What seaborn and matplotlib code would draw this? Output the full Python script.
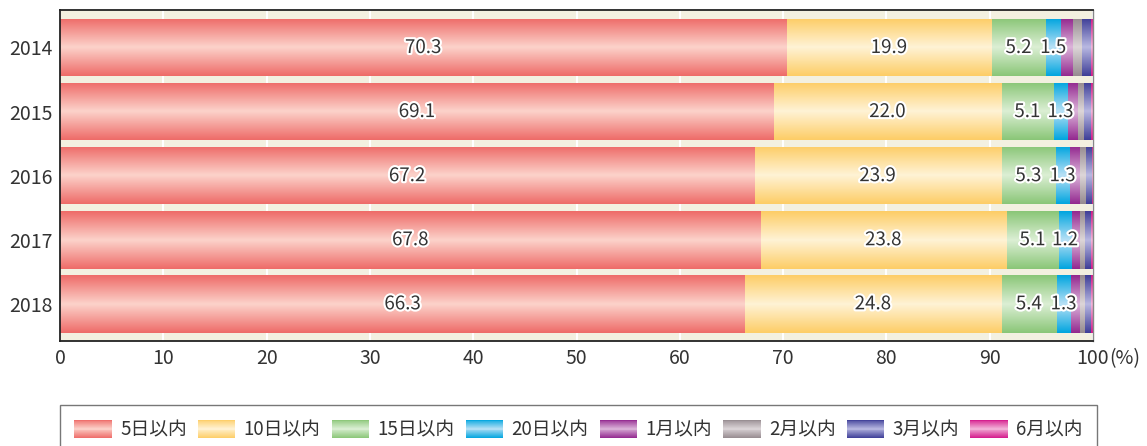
import numpy as np
import pandas as pd
import matplotlib
matplotlib.use("Agg")
import matplotlib.pyplot as plt
import matplotlib.patheffects as pe
from matplotlib.colors import LinearSegmentedColormap
from matplotlib.legend_handler import HandlerBase
from matplotlib.patches import Patch, Rectangle
import seaborn as sns

# data
years = ['2014', '2015', '2016', '2017', '2018']
categories = ['5日以内', '10日以内', '15日以内', '20日以内', '1月以内', '2月以内', '3月以内', '6月以内']
d5 = [70.3, 69.1, 67.2, 67.8, 66.3]
d10 = [19.9, 22.0, 23.9, 23.8, 24.8]
d15 = [5.2, 5.1, 5.3, 5.1, 5.4]
d20 = [1.5, 1.3, 1.3, 1.2, 1.3]
m1 = [1.1, 1.0, 1.0, 0.8, 0.9]
m2 = [0.9, 0.6, 0.6, 0.5, 0.5]
m3 = [0.9, 0.7, 0.6, 0.6, 0.6]
m6 = [0.2, 0.2, 0.1, 0.2, 0.2]
labelled = 4  # only first four series get value labels

# (edge colour, centre colour) for the shiny gradient bars
edge_cols = ['#ee6b68', '#fdcd66', '#8ac677', '#00a5df', '#93288f', '#968b90', '#3e3e97', '#d4198b']
mid_cols = ['#fcd3cb', '#fff3d6', '#dcefd5', '#b9e1f6', '#dcb5da', '#ddd6d9', '#b9b9e2', '#f3b6da']

df = pd.DataFrame(dict(zip(categories, [d5, d10, d15, d20, m1, m2, m3, m6])), index=years)
cum = df.cumsum(axis=1)

sns.set_style("white")
plt.rcParams['font.family'] = ['Noto Sans CJK JP', 'DejaVu Sans']

fig = plt.figure(figsize=(11.47, 4.46), dpi=100)
ax = fig.add_axes([60 / 1147, 1 - 341 / 446, 1033 / 1147, 331 / 446])
ax.set_facecolor('#f3f0e0')

cmaps = [LinearSegmentedColormap.from_list('g%d' % i, [e, m, e])
         for i, (e, m) in enumerate(zip(edge_cols, mid_cols))]
grad = np.linspace(0, 1, 128).reshape(-1, 1)

# draw cumulative bars from widest to narrowest, then paint gradients clipped to them
for k in range(len(categories) - 1, -1, -1):
    n0 = len(ax.patches)
    plot_df = pd.DataFrame({'year': years, 'val': cum[categories[k]].values})
    sns.barplot(data=plot_df, x='val', y='year', orient='h', color=edge_cols[k],
                width=0.9, ax=ax, linewidth=0)
    for p in ax.patches[n0:]:
        p.set_facecolor('none')
        x0, y0, w, h = p.get_x(), p.get_y(), p.get_width(), p.get_height()
        im = ax.imshow(grad, cmap=cmaps[k], aspect='auto', interpolation='bilinear',
                       extent=[x0, x0 + w, y0 + h, y0], zorder=2 + (len(categories) - k) * 0.01)
        im.set_clip_path(p)

# value labels
outline = [pe.withStroke(linewidth=3, foreground='white')]
for k in range(labelled):
    cat = categories[k]
    for i, y in enumerate(years):
        v = df.loc[y, cat]
        center = cum.loc[y, cat] - v / 2
        ax.text(center, i, f'{v:.1f}', ha='center', va='center', fontsize=13.5,
                color='#333333', zorder=5, path_effects=outline)

ax.set_xlim(0, 100)
ax.set_ylim(4.58, -0.585)
ax.set_xticks(range(0, 101, 10))
ax.set_xlabel('')
ax.set_ylabel('')
ax.grid(axis='x', color='white', lw=1.5)
ax.grid(axis='y', visible=False)
ax.set_axisbelow(True)
ax.tick_params(axis='x', direction='in', length=6, width=1.2, color='#777777',
               labelsize=14, labelcolor='#333333', pad=5)
ax.tick_params(axis='y', length=0, labelsize=14, labelcolor='#333333', pad=5)
for s in ['left', 'bottom', 'top']:
    ax.spines[s].set_color('#222222')
    ax.spines[s].set_linewidth(1.3)
ax.spines['right'].set_color('#888888')
ax.spines['right'].set_linewidth(1.0)
ax.annotate('(%)', xy=(1, 0), xycoords='axes fraction', xytext=(12, -12.5),
            textcoords='offset points', va='center', ha='left', fontsize=14, color='#333333')


class GradHandler(HandlerBase):
    def __init__(self, cmap):
        super().__init__()
        self.cmap = cmap

    def create_artists(self, legend, orig_handle, xdescent, ydescent, width, height, fontsize, trans):
        n = 20
        arts = []
        for i in range(n):
            r = Rectangle((-xdescent, -ydescent + height * i / n), width, height / n * 1.05,
                          facecolor=self.cmap((i + 0.5) / n), lw=0, transform=trans)
            arts.append(r)
        return arts


handles = [Patch(facecolor=c, label=l) for c, l in zip(edge_cols, categories)]
hmap = {h: GradHandler(cm) for h, cm in zip(handles, cmaps)}
leg = fig.legend(handles=handles, handler_map=hmap, ncol=8, loc='upper left',
                 bbox_to_anchor=(60 / 1147, 0, 1037 / 1147, 1 - 405 / 446), mode='expand',
                 borderaxespad=0, fontsize=13.5, handlelength=2.0, handleheight=1.1,
                 handletextpad=0.45, columnspacing=0.8, fancybox=False, frameon=True,
                 borderpad=0.75)
leg.get_frame().set_edgecolor('#555555')
leg.get_frame().set_linewidth(1.0)
for t in leg.get_texts():
    t.set_color('#333333')

fig.savefig('out.png', dpi=100)
